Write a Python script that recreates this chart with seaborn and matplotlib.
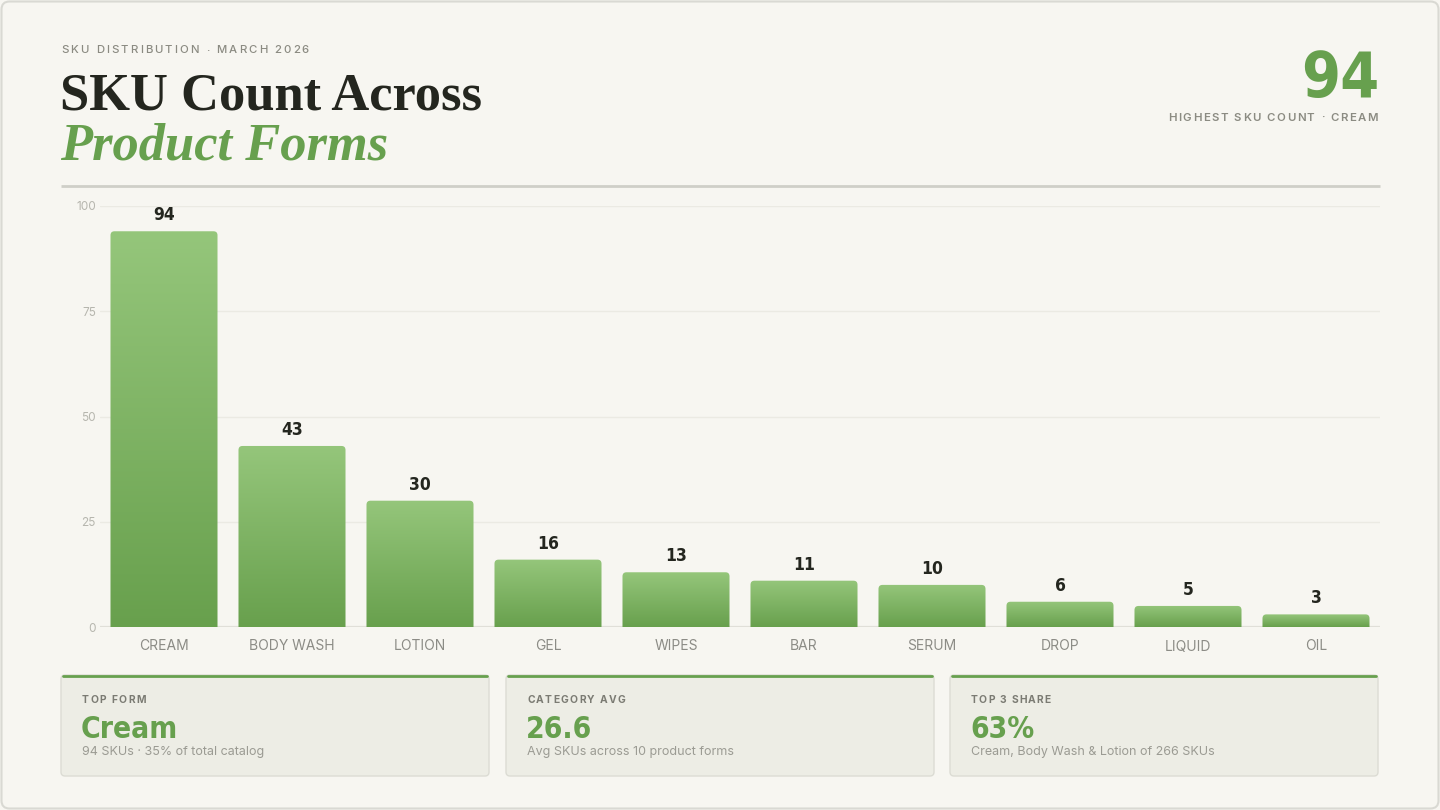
import matplotlib
matplotlib.use("Agg")
import matplotlib.pyplot as plt
import seaborn as sns
import numpy as np
from matplotlib.patches import FancyBboxPatch
from matplotlib.colors import LinearSegmentedColormap

# ---------------- data ----------------
forms = ["CREAM", "BODY WASH", "LOTION", "GEL", "WIPES", "BAR", "SERUM", "DROP", "LIQUID", "OIL"]
sku_counts = [94, 43, 30, 16, 13, 11, 10, 6, 5, 3]
y_ticks = [0, 25, 50, 75, 100]

eyebrow = "SKU DISTRIBUTION · MARCH 2026"
title_1 = "SKU Count Across"
title_2 = "Product Forms"
kpi_value = "94"
kpi_label = "HIGHEST SKU COUNT · CREAM"
card_labels = ["TOP FORM", "CATEGORY AVG", "TOP 3 SHARE"]
card_values = ["Cream", "26.6", "63%"]
card_notes = ["94 SKUs · 35% of total catalog",
              "Avg SKUs across 10 product forms",
              "Cream, Body Wash & Lotion of 266 SKUs"]

# ---------------- style ----------------
W, H = 1440, 810
BG = "#f7f6f1"
GREEN = "#67a04e"
DARK = "#24261f"
GREY = "#8b8b82"

sns.set_theme(style="white")
plt.rcParams["font.family"] = ["Inter", "DejaVu Sans"]

COND = dict(family=["DejaVu Sans"], fontstretch="condensed", fontweight="bold")
SERIF = ["Liberation Serif", "DejaVu Serif"]

fig = plt.figure(figsize=(W / 100, H / 100), dpi=100, facecolor=BG)

# background canvas in pixel coordinates
bg = fig.add_axes([0, 0, 1, 1], zorder=0)
bg.set_xlim(0, W)
bg.set_ylim(H, 0)
bg.axis("off")

bg.add_patch(FancyBboxPatch((1.5, 1.5), W - 3, H - 3,
                            boxstyle="round,pad=0,rounding_size=8",
                            fc=BG, ec="#d9d9d3", lw=1.5))

renderer = fig.canvas.get_renderer()


def spaced(x, y, s, target_w, ha="left", **kw):
    """Draw letter-spaced text so that it spans target_w pixels."""
    widths = []
    for ch in s:
        if ch == " ":
            widths.append(None)
            continue
        t = bg.text(0, 0, ch, **kw)
        widths.append(t.get_window_extent(renderer).width)
        t.remove()
    size_px = kw.get("fontsize", 10) * 100 / 72
    widths = [w if w is not None else 0.28 * size_px for w in widths]
    gap = (target_w - sum(widths)) / max(len(s) - 1, 1)
    start = x if ha == "left" else x - target_w
    cx = start
    for ch, w in zip(s, widths):
        if ch != " ":
            bg.text(cx, y, ch, ha="left", va="center", **kw)
        cx += w + gap


# ---------------- header ----------------
spaced(61, 50, eyebrow, 248, fontsize=8.2, color=GREY, fontweight="medium")
bg.text(60, 110, title_1, fontsize=37.8, family=SERIF, fontweight="bold",
        color=DARK, va="baseline", ha="left")
bg.text(60, 160, title_2, fontsize=37.8, family=SERIF, fontweight="bold",
        style="italic", color=GREEN, va="baseline", ha="left")

bg.text(1379, 80, kpi_value, fontsize=45, color=GREEN, ha="right", va="center", **COND)
spaced(1378, 118, kpi_label, 210, ha="right", fontsize=8.2, color=GREY, fontweight="semibold")

bg.plot([61, 1380], [186, 186], color="#cfcfc8", lw=2, solid_capstyle="butt")

# ---------------- chart ----------------
ax = fig.add_axes([100 / W, 1 - 627 / H, 1280 / W, 421 / H], zorder=2)
ax.patch.set_alpha(0)

sns.barplot(x=forms, y=sku_counts, ax=ax, width=0.836, color=GREEN, saturation=1)
ax.set_xlim(-0.5, len(forms) - 0.5)
ax.set_ylim(0, 100)

for t in y_ticks:
    ax.axhline(t, color="#ebeae3" if t else "#e0dfd8", lw=1 if t else 1.6, zorder=0)

cmap = LinearSegmentedColormap.from_list("g", ["#68a04d", "#95c67b"])
grad = np.linspace(0, 1, 256).reshape(-1, 1)
x_per_px = len(forms) / 1280
y_per_px = 100 / 421
r = 4 * x_per_px
asp = y_per_px / x_per_px
for p in list(ax.patches):
    x0, w, h = p.get_x(), p.get_width(), p.get_height()
    p.set_visible(False)
    shape = FancyBboxPatch((x0, -4), w, h + 4,
                           boxstyle=f"round,pad=0,rounding_size={r}",
                           mutation_aspect=asp, fc="none", ec="none",
                           transform=ax.transData)
    ax.add_patch(shape)
    im = ax.imshow(grad, extent=[x0, x0 + w, 0, h], origin="lower",
                   aspect="auto", cmap=cmap, zorder=2)
    im.set_clip_path(shape)

ax.set_xlim(-0.5, len(forms) - 0.5)
ax.set_ylim(0, 100)

for i, v in enumerate(sku_counts):
    ax.annotate(str(v), (i, v), xytext=(0, 5), textcoords="offset points",
                ha="center", va="bottom", fontsize=12.5, color=DARK, **COND)

ax.set_yticks(y_ticks)
ax.set_xlabel("")
ax.set_ylabel("")
for s in ax.spines.values():
    s.set_visible(False)
ax.tick_params(axis="y", length=0, pad=3, labelsize=8.5, labelcolor="#b6b6ae")
ax.tick_params(axis="x", length=0, pad=9, labelsize=10, labelcolor="#8c8c86")

# ---------------- cards ----------------
card_x = [61, 506, 950]
card_w = 428
for cx, lab, val, note in zip(card_x, card_labels, card_values, card_notes):
    bg.add_patch(FancyBboxPatch((cx, 675), card_w, 101,
                                boxstyle="round,pad=0,rounding_size=4",
                                fc="#edede5", ec="#dcdcd4", lw=1))
    bg.plot([cx + 2, cx + card_w - 2], [676, 676], color=GREEN, lw=2,
            solid_capstyle="round")
    lab_w = bg.text(0, 0, lab, fontsize=7.4, fontweight="bold").get_window_extent(renderer).width
    bg.texts[-1].remove()
    spaced(cx + 21, 700, lab, lab_w * 1.18, fontsize=7.4, color="#7b7b73", fontweight="bold")
    bg.text(cx + 20, 729, val, fontsize=21.5, color=GREEN, ha="left", va="center", **COND)
    bg.text(cx + 21, 752, note, fontsize=9, color="#9b9b93", ha="left", va="center")

fig.savefig("out.png", dpi=100, facecolor=BG)
